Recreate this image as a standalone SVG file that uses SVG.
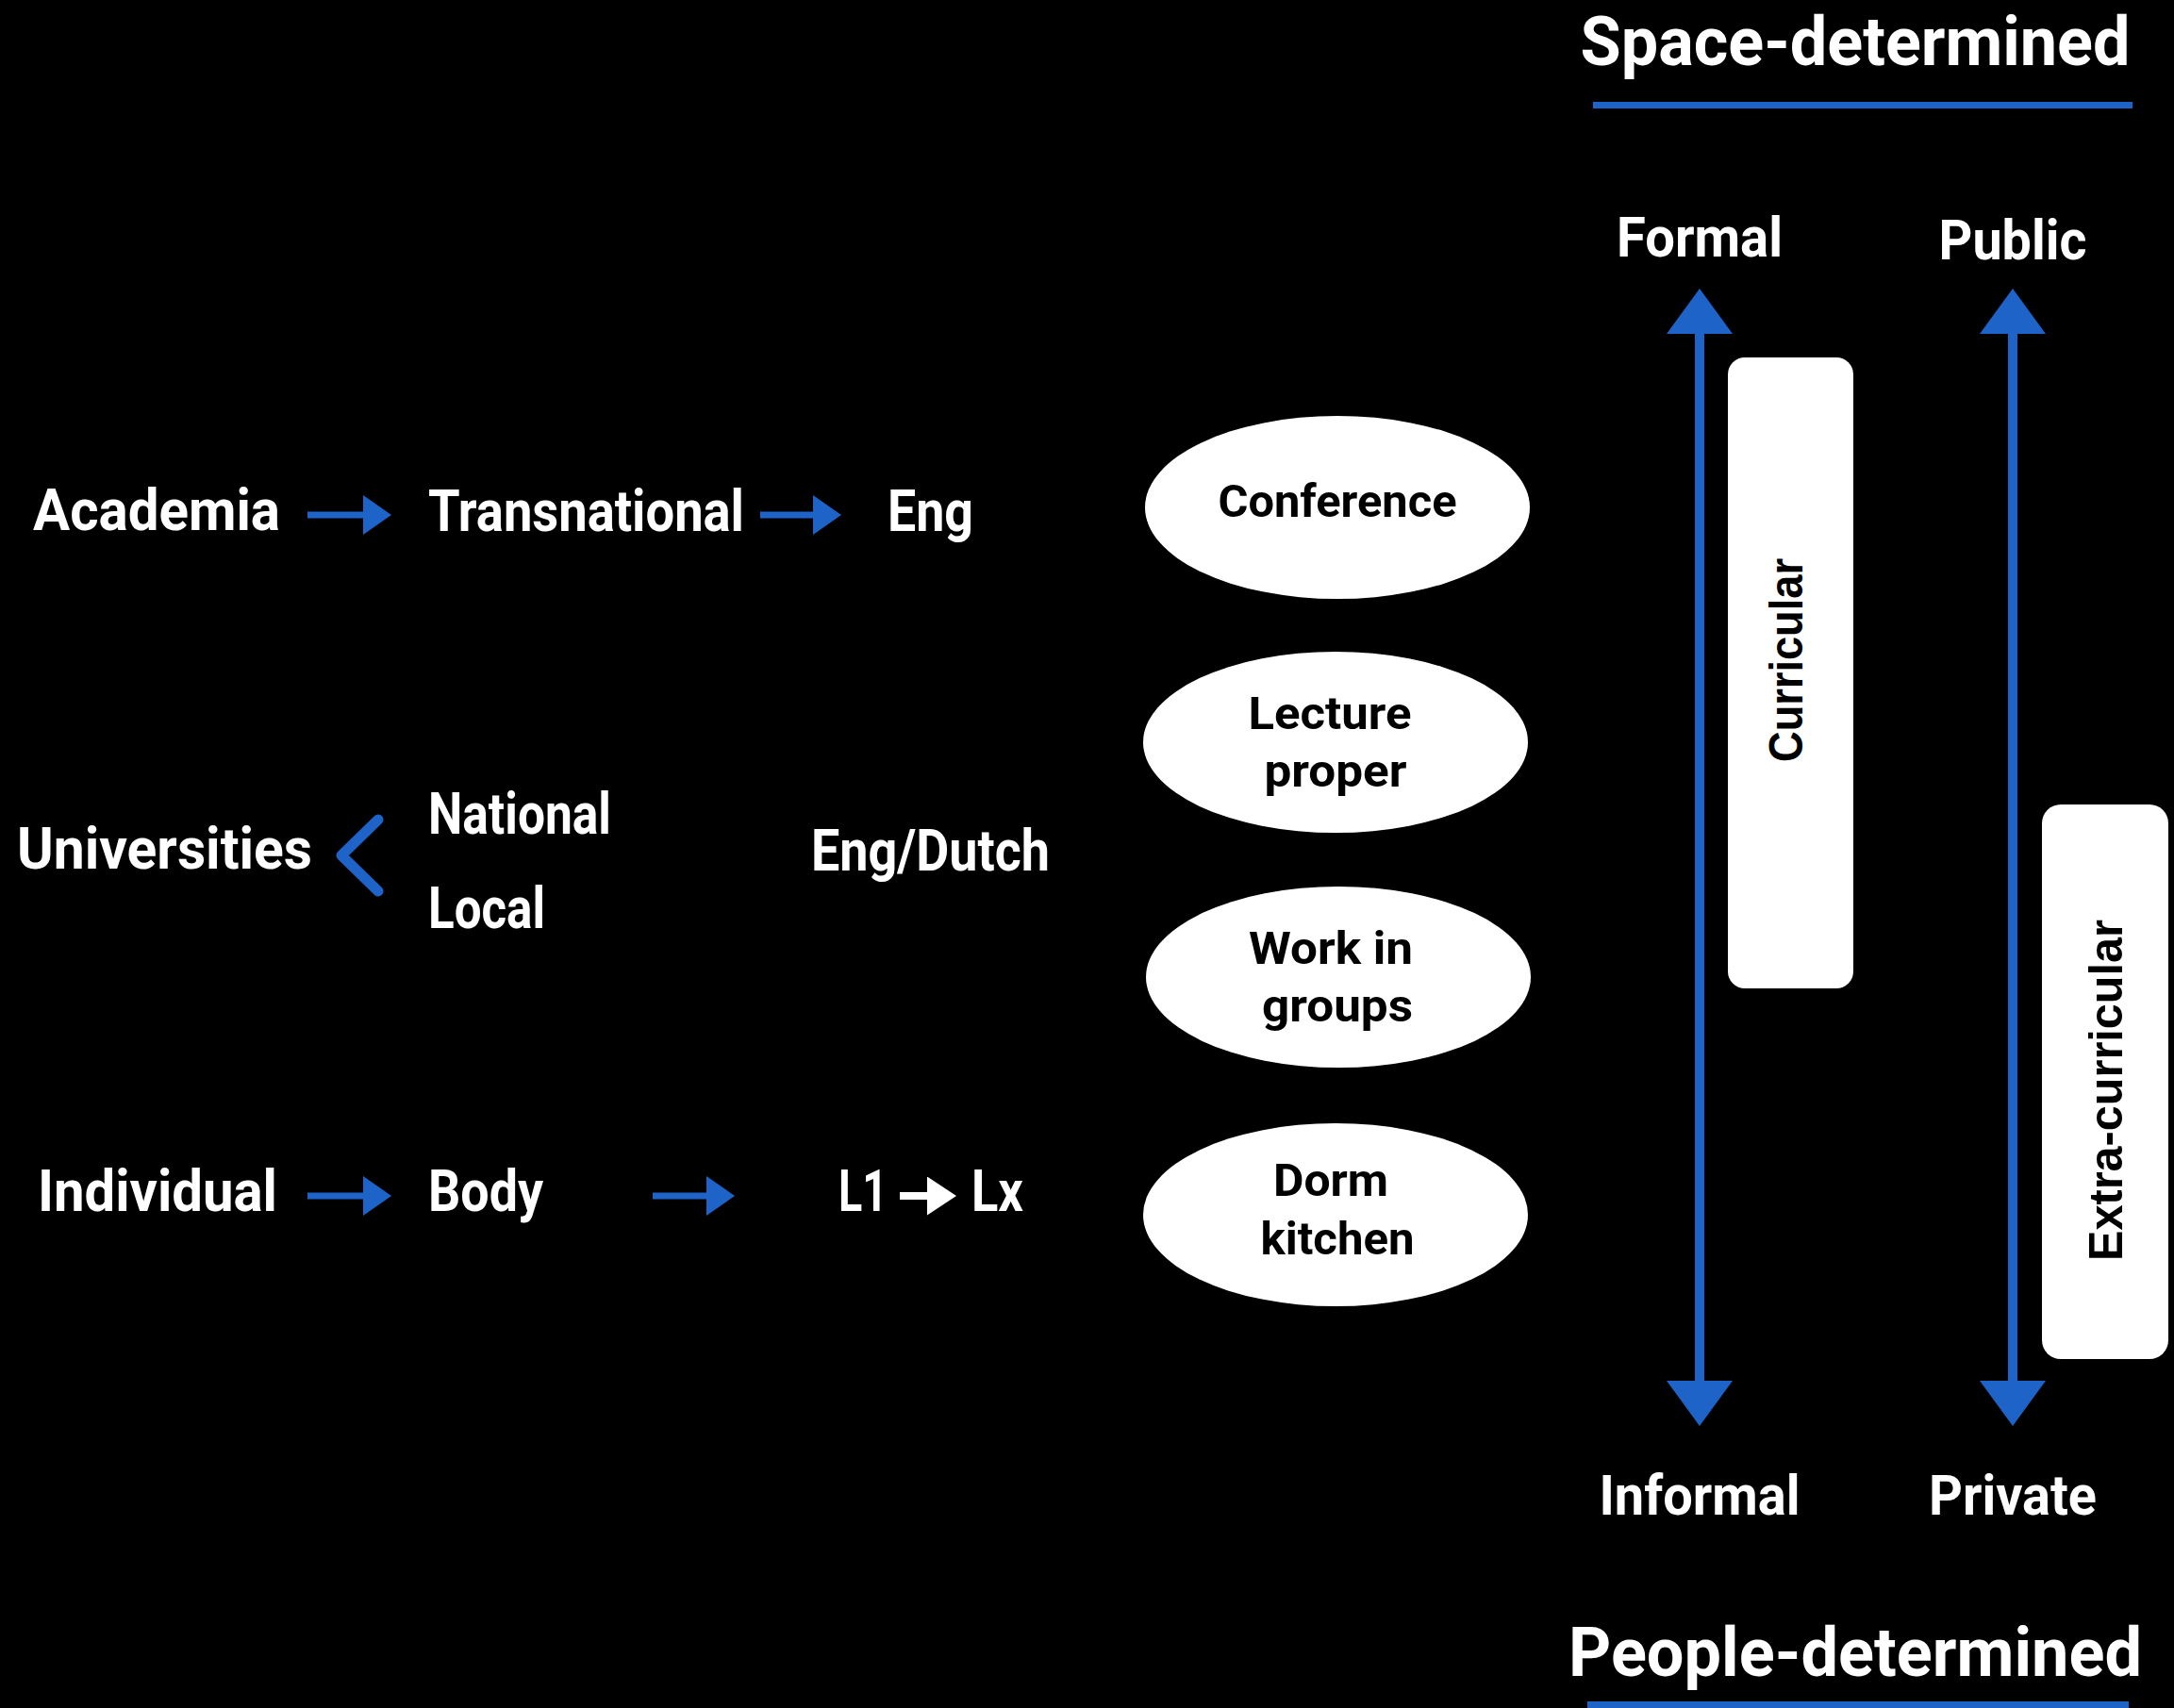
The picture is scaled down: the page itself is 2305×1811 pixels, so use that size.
<svg xmlns="http://www.w3.org/2000/svg" width="2305" height="1811" viewBox="0 0 2305 1811">
<defs>
<style>
.lbl{font-family:Roboto,"Liberation Sans",sans-serif;font-weight:700;fill:#fff;font-size:61px}
.ax{font-family:Roboto,"Liberation Sans",sans-serif;font-weight:700;fill:#fff;font-size:59px;text-anchor:middle}
.ttl{font-family:Roboto,"Liberation Sans",sans-serif;font-weight:700;fill:#fff;font-size:73px;text-anchor:middle}
.node{fill:#fff}
.ntx{font-family:Roboto,"Liberation Sans",sans-serif;font-weight:700;fill:#000;font-size:48px;text-anchor:middle}
.btx{font-family:"Liberation Sans",Arial,sans-serif;font-weight:700;fill:#000;font-size:50px;text-anchor:middle}
.shaft{stroke:#1E63C8;stroke-width:7;fill:none}
.vshaft{stroke:#1E63C8;stroke-width:10;fill:none}
.rule{fill:#1E63C8}
</style>
<marker id="ah" viewBox="0 0 30 42" refX="0" refY="21" markerWidth="30" markerHeight="42" markerUnits="userSpaceOnUse" orient="auto">
<path d="M0,0 L30,21 L0,42 Z" fill="#1E63C8"/>
</marker>
<marker id="ahw" viewBox="0 0 31 41" refX="0" refY="20.5" markerWidth="31" markerHeight="41" markerUnits="userSpaceOnUse" orient="auto">
<path d="M0,0 L31,20.5 L0,41 Z" fill="#fff"/>
</marker>
<marker id="vh" viewBox="0 0 48 70" refX="0" refY="35" markerWidth="48" markerHeight="70" markerUnits="userSpaceOnUse" orient="auto-start-reverse">
<path d="M0,0 L48,35 L0,70 Z" fill="#1E63C8"/>
</marker>
</defs>
<rect width="2305" height="1811" fill="#000"/>

<g id="titles">
<text class="ttl" x="1967" y="69" textLength="583" lengthAdjust="spacingAndGlyphs">Space-determined</text>
<rect class="rule" x="1689" y="108" width="572" height="7"/>
<text class="ttl" x="1967" y="1777" textLength="608" lengthAdjust="spacingAndGlyphs">People-determined</text>
<rect class="rule" x="1683" y="1804" width="574" height="7"/>
</g>

<g id="academia"><text class="lbl" x="35" y="562" textLength="262" lengthAdjust="spacingAndGlyphs">Academia</text></g>
<g id="transnational"><text class="lbl" x="454" y="563" textLength="335" lengthAdjust="spacingAndGlyphs">Transnational</text></g>
<g id="eng"><text class="lbl" x="941" y="563" textLength="91" lengthAdjust="spacingAndGlyphs">Eng</text></g>

<g id="universities"><text class="lbl" x="18" y="921" textLength="313" lengthAdjust="spacingAndGlyphs">Universities</text></g>
<g id="national"><text class="lbl" x="454" y="884" textLength="194" lengthAdjust="spacingAndGlyphs">National</text></g>
<g id="local"><text class="lbl" x="454" y="984" textLength="124" lengthAdjust="spacingAndGlyphs">Local</text></g>
<g id="engdutch"><text class="lbl" x="860" y="923" textLength="253" lengthAdjust="spacingAndGlyphs">Eng/Dutch</text></g>

<g id="individual"><text class="lbl" x="40" y="1284" textLength="254" lengthAdjust="spacingAndGlyphs">Individual</text></g>
<g id="body"><text class="lbl" x="454" y="1284" textLength="122" lengthAdjust="spacingAndGlyphs">Body</text></g>
<g id="l1lx">
<text class="lbl" x="889" y="1284" textLength="52" lengthAdjust="spacingAndGlyphs">L1</text>
<line x1="954" y1="1268" x2="983" y2="1268" stroke="#fff" stroke-width="8" marker-end="url(#ahw)"/>
<text class="lbl" x="1030" y="1284" textLength="55" lengthAdjust="spacingAndGlyphs">Lx</text>
</g>

<g id="conference">
<ellipse class="node" cx="1418" cy="538" rx="204" ry="97"/>
<text class="ntx" x="1418" y="548" textLength="253" lengthAdjust="spacingAndGlyphs">Conference</text>
</g>
<g id="lecture">
<ellipse class="node" cx="1416" cy="787" rx="204" ry="96"/>
<text class="ntx" x="1410" y="773" textLength="173" lengthAdjust="spacingAndGlyphs">Lecture</text>
<text class="ntx" x="1416" y="834" textLength="151" lengthAdjust="spacingAndGlyphs">proper</text>
</g>
<g id="workgroups">
<ellipse class="node" cx="1419" cy="1036" rx="204" ry="96"/>
<text class="ntx" x="1411" y="1022" textLength="174" lengthAdjust="spacingAndGlyphs">Work in</text>
<text class="ntx" x="1418" y="1083" textLength="160" lengthAdjust="spacingAndGlyphs">groups</text>
</g>
<g id="dorm">
<ellipse class="node" cx="1416" cy="1288" rx="204" ry="97"/>
<text class="ntx" x="1411" y="1268" textLength="122" lengthAdjust="spacingAndGlyphs">Dorm</text>
<text class="ntx" x="1418" y="1330" textLength="163" lengthAdjust="spacingAndGlyphs">kitchen</text>
</g>

<g id="curricular">
<rect class="node" x="1832" y="379" width="133" height="669" rx="18"/>
<text class="btx" transform="translate(1911,700) rotate(-90)" x="0" y="0" textLength="216" lengthAdjust="spacingAndGlyphs">Curricular</text>
</g>
<g id="extracurricular">
<rect class="node" x="2165" y="853" width="134" height="588" rx="20"/>
<text class="btx" transform="translate(2250,1156) rotate(-90)" x="0" y="0" textLength="362" lengthAdjust="spacingAndGlyphs">Extra-curricular</text>
</g>

<g id="formal"><text class="ax" x="1802" y="272" textLength="176" lengthAdjust="spacingAndGlyphs">Formal</text></g>
<g id="public"><text class="ax" x="2134" y="275" textLength="157" lengthAdjust="spacingAndGlyphs">Public</text></g>
<g id="informal"><text class="ax" x="1802" y="1606" textLength="213" lengthAdjust="spacingAndGlyphs">Informal</text></g>
<g id="private"><text class="ax" x="2134" y="1606" textLength="178" lengthAdjust="spacingAndGlyphs">Private</text></g>

<g id="connectors">
<line class="shaft" x1="326" y1="546" x2="385" y2="546" marker-end="url(#ah)"/>
<line class="shaft" x1="806" y1="546" x2="862" y2="546" marker-end="url(#ah)"/>
<line class="shaft" x1="326" y1="1268" x2="385" y2="1268" marker-end="url(#ah)"/>
<line class="shaft" x1="692" y1="1268" x2="749" y2="1268" marker-end="url(#ah)"/>
<polyline points="401,869 362,907 401,945" fill="none" stroke="#1E63C8" stroke-width="11" stroke-linecap="round" stroke-linejoin="round"/>
<line class="vshaft" x1="1802" y1="354" x2="1802" y2="1464" marker-start="url(#vh)" marker-end="url(#vh)"/>
<line class="vshaft" x1="2134" y1="354" x2="2134" y2="1464" marker-start="url(#vh)" marker-end="url(#vh)"/>
</g>
</svg>
